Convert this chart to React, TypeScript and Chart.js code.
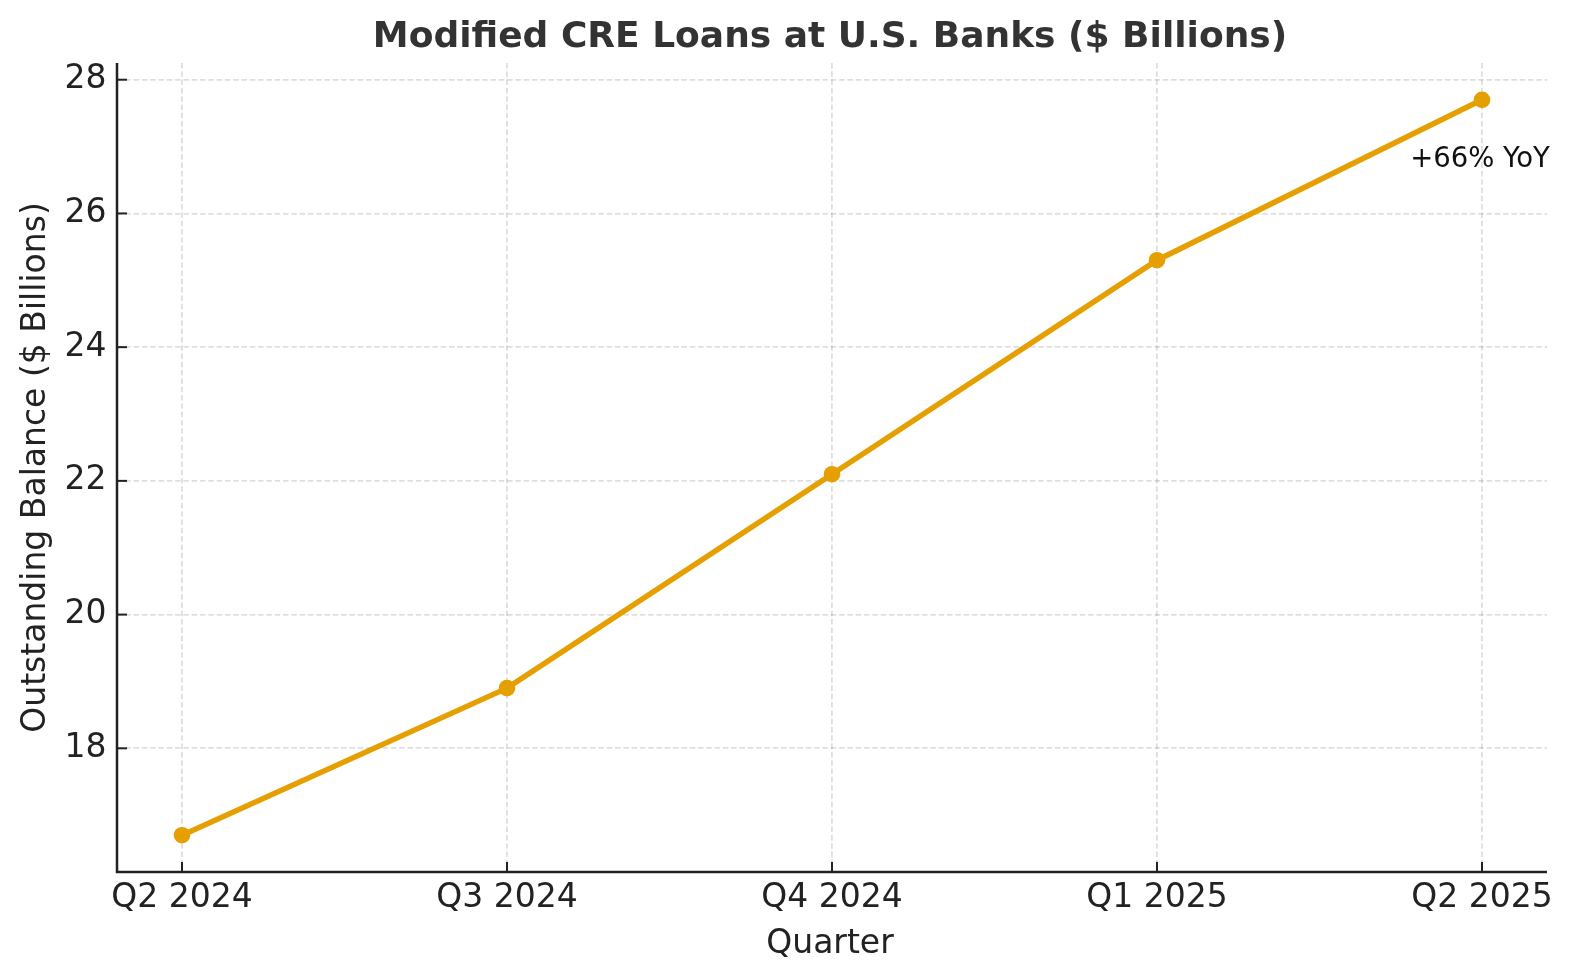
import React, { useEffect, useRef } from "react";
import { Chart, registerables } from "chart.js";

Chart.register(...registerables);

const quarters = ["Q2 2024", "Q3 2024", "Q4 2024", "Q1 2025", "Q2 2025"];
const balances = [16.7, 18.9, 22.1, 25.3, 27.7];
const yTickValues = [18, 20, 22, 24, 26, 28];
const titleText = "Modified CRE Loans at U.S. Banks ($ Billions)";
const xTitleText = "Quarter";
const yTitleText = "Outstanding Balance ($ Billions)";
const annotationText = "+66% YoY";

const FONT = "'DejaVu Sans', 'Liberation Sans', sans-serif";
const LINE_COLOR = "#E69F00";
const INK = "#222222";
const GRID_COLOR = "rgba(0,0,0,0.13)";

const decorPlugin = {
  id: "decor",
  afterDraw(chart: any) {
    const { ctx, chartArea: a, scales } = chart;
    const xs = scales.x;
    const ys = scales.y;
    ctx.save();
    // inward tick marks
    ctx.strokeStyle = INK;
    ctx.lineWidth = 2;
    quarters.forEach((_, i) => {
      const px = xs.getPixelForValue(i);
      ctx.beginPath();
      ctx.moveTo(px, a.bottom);
      ctx.lineTo(px, a.bottom - 10);
      ctx.stroke();
    });
    yTickValues.forEach((v) => {
      const py = ys.getPixelForValue(v);
      ctx.beginPath();
      ctx.moveTo(a.left, py);
      ctx.lineTo(a.left + 10, py);
      ctx.stroke();
    });
    // spines (left + bottom)
    ctx.lineWidth = 2.5;
    ctx.beginPath();
    ctx.moveTo(a.left, a.top);
    ctx.lineTo(a.left, a.bottom);
    ctx.lineTo(a.right, a.bottom);
    ctx.stroke();

    // title
    const cx = (a.left + a.right) / 2 - 2;
    ctx.fillStyle = "#333333";
    ctx.font = `bold 36px ${FONT}`;
    ctx.textAlign = "center";
    ctx.textBaseline = "alphabetic";
    ctx.fillText(titleText, cx, 47);

    // x axis title
    ctx.fillStyle = INK;
    ctx.font = `33px ${FONT}`;
    ctx.fillText(xTitleText, cx, 953);

    // y axis title
    ctx.save();
    ctx.translate(45, (a.top + a.bottom) / 2);
    ctx.rotate(-Math.PI / 2);
    ctx.fillText(yTitleText, 0, 0);
    ctx.restore();

    // annotation below the last point
    const lastIdx = balances.length - 1;
    const lx = xs.getPixelForValue(lastIdx);
    const ly = ys.getPixelForValue(balances[lastIdx]);
    ctx.fillStyle = "#111111";
    ctx.font = `27.5px ${FONT}`;
    ctx.fillText(annotationText, lx - 2, ly + 67);
    ctx.restore();
  },
};

export default function App() {
  const canvasRef = useRef<HTMLCanvasElement | null>(null);

  useEffect(() => {
    const canvas = canvasRef.current;
    if (!canvas) return;
    const chart = new Chart(canvas, {
      type: "line",
      data: {
        datasets: [
          {
            label: "Modified CRE Loans",
            data: balances.map((v, i) => ({ x: i, y: v })),
            borderColor: LINE_COLOR,
            backgroundColor: LINE_COLOR,
            borderWidth: 5.5,
            pointRadius: 8.3,
            pointBackgroundColor: LINE_COLOR,
            pointBorderWidth: 0,
            tension: 0,
            fill: false,
          },
        ],
      },
      options: {
        animation: false,
        responsive: false,
        devicePixelRatio: 1,
        layout: { padding: { left: 0, right: 24, top: 63, bottom: 0 } },
        plugins: {
          legend: { display: false },
          title: { display: false },
          tooltip: { enabled: false },
        },
        scales: {
          x: {
            type: "linear",
            min: -0.2,
            max: 4.2,
            afterBuildTicks: (scale: any) => {
              scale.ticks = quarters.map((_, i) => ({ value: i }));
            },
            afterFit: (scale: any) => {
              scale.height = 108;
            },
            ticks: {
              autoSkip: false,
              maxRotation: 0,
              minRotation: 0,
              padding: 7,
              color: INK,
              font: { family: FONT, size: 33 },
              callback: (v: any) => quarters[v as number] ?? "",
            },
            grid: {
              display: true,
              drawTicks: false,
              color: GRID_COLOR,
              lineWidth: 1.8,
            },
            border: { display: false, dash: [5.5, 2.8] },
          },
          y: {
            type: "linear",
            min: 16.15,
            max: 28.25,
            afterBuildTicks: (scale: any) => {
              scale.ticks = yTickValues.map((v) => ({ value: v }));
            },
            afterFit: (scale: any) => {
              scale.width = 117;
            },
            ticks: {
              padding: 10.5,
              color: INK,
              font: { family: FONT, size: 33 },
              callback: (v: any) => String(v),
            },
            grid: {
              display: true,
              drawTicks: false,
              color: GRID_COLOR,
              lineWidth: 1.8,
            },
            border: { display: false, dash: [5.5, 2.8] },
          },
        },
      },
      plugins: [decorPlugin],
    });
    return () => chart.destroy();
  }, []);

  return (
    <div style={{ position: "absolute", left: 0, top: 0, width: 1571, height: 980, background: "#ffffff" }}>
      <canvas ref={canvasRef} width={1571} height={980} style={{ display: "block" }} />
    </div>
  );
}
